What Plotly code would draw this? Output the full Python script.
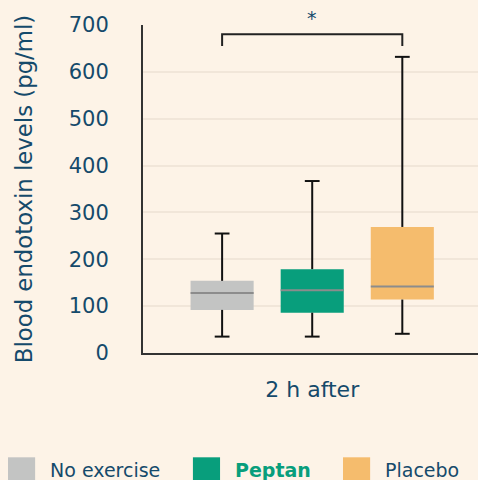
import plotly.graph_objects as go

# ---- data ----
groups = ["No exercise", "Peptan", "Placebo"]
category = "2 h after"
lower = [35, 35, 41]
q1 = [92, 86, 114]
median = [128, 134, 142]
q3 = [154, 179, 269]
upper = [255, 367, 632]
sig_label = "*"
y_ticks = [0, 100, 200, 300, 400, 500, 600, 700]

# ---- style ----
fills = ["#c3c4c3", "#089e7c", "#f5bc6d"]
bg = "#fdf3e7"
txt = "#154a6b"
font_family = "DejaVu Sans, Verdana, sans-serif"
offsets = [-1, 0, 1]
box_w = 0.70
cap_half = 0.082

fig = go.Figure()

for i, g in enumerate(groups):
    x0 = offsets[i]
    # box body
    fig.add_trace(go.Bar(x=[x0], y=[q3[i] - q1[i]], base=[q1[i]], width=[box_w],
                         marker=dict(color=fills[i], line=dict(width=0)),
                         showlegend=False, hoverinfo="skip"))
    # whiskers
    fig.add_trace(go.Scatter(x=[x0, x0, None, x0, x0], y=[lower[i], q1[i], None, q3[i], upper[i]],
                             mode="lines", line=dict(color="#111111", width=2),
                             showlegend=False, hoverinfo="skip"))
    # caps
    fig.add_trace(go.Scatter(x=[x0 - cap_half, x0 + cap_half, None, x0 - cap_half, x0 + cap_half],
                             y=[lower[i], lower[i], None, upper[i], upper[i]],
                             mode="lines", line=dict(color="#111111", width=2),
                             showlegend=False, hoverinfo="skip"))
    # median
    fig.add_trace(go.Scatter(x=[x0 - box_w / 2, x0 + box_w / 2], y=[median[i], median[i]],
                             mode="lines", line=dict(color="#8c8c8c", width=2),
                             showlegend=False, hoverinfo="skip"))

# significance bracket between No exercise and Placebo
br_y = 680
br_low = 655
fig.add_shape(type="path",
              path=f"M {offsets[0]},{br_low} L {offsets[0]},{br_y} L {offsets[2]},{br_y} L {offsets[2]},{br_low}",
              xref="x", yref="y", line=dict(color="#222222", width=2))
fig.add_annotation(x=offsets[1], y=br_y, text=sig_label, showarrow=False, yanchor="middle",
                   yshift=16, font=dict(size=19, color=txt, family=font_family))

# manual legend
leg_x = [-0.403, 0.149, 0.597]
for i, g in enumerate(groups):
    fig.add_shape(type="rect", xref="paper", yref="paper",
                  x0=leg_x[i], x1=leg_x[i] + 0.081, y0=-0.40, y1=-0.318,
                  fillcolor=fills[i], line=dict(width=0))
    label = g
    color = txt
    if g == "Peptan":
        label = f"<b>{g}</b>"
        color = fills[i]
    fig.add_annotation(xref="paper", yref="paper", x=leg_x[i] + 0.12, y=-0.357,
                       xanchor="left", yanchor="middle", text=label, showarrow=False,
                       font=dict(size=19, color=color, family=font_family))

fig.update_layout(
    width=478, height=480,
    margin=dict(l=143, r=0, t=25, b=127),
    paper_bgcolor=bg, plot_bgcolor=bg,
    font=dict(family=font_family, color=txt, size=21),
    showlegend=False,
    barmode="overlay",
    xaxis=dict(range=[-1.878, 1.84], tickvals=[0], ticktext=[category],
               showgrid=False, zeroline=False, showline=True, linecolor="#333333", linewidth=2,
               ticks="", tickfont=dict(size=22, color=txt), ticklabelstandoff=16, fixedrange=True),
    yaxis=dict(range=[0, 700], tickvals=y_ticks, showgrid=True, gridcolor="#f1e6d9", gridwidth=2,
               zeroline=False, showline=True, linecolor="#333333", linewidth=2, ticks="",
               tickfont=dict(size=21, color=txt), ticklabelstandoff=28,
               title=dict(text="Blood endotoxin levels (pg/ml)", font=dict(size=22.8, color=txt), standoff=30)),
)

fig.write_html("out.html", config={"displayModeBar": False})
with open("out.html", "r", encoding="utf-8") as f:
    html = f.read()
html = html.replace("<head>", "<head><style>html,body{margin:0;padding:0;overflow:hidden;}</style>", 1)
with open("out.html", "w", encoding="utf-8") as f:
    f.write(html)
